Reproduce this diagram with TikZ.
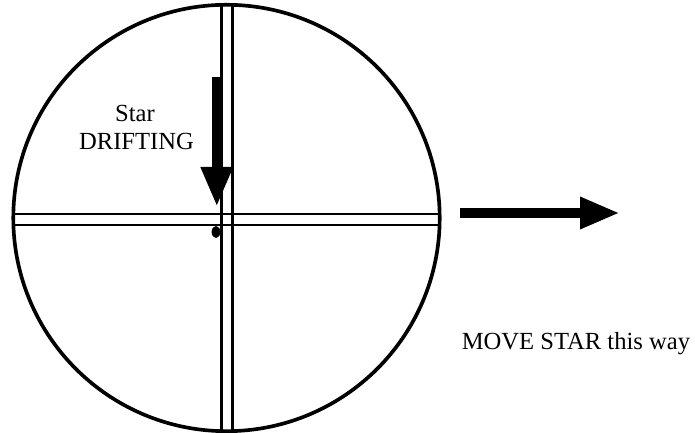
\documentclass[tikz,border=0pt]{standalone}
\usepackage{fontspec}
\setmainfont{Liberation Serif}
\usepackage{tikz}
\usetikzlibrary{arrows.meta,positioning}

\begin{document}
\begin{tikzpicture}[
      ring/.style={line width=2.6pt, black},
      hair/.style={line width=1.5pt, black},
      bigarrow/.style={line width=0.25cm, -{Triangle[length=1cm, width=0.74cm]}},
      lbl/.style={font=\fontsize{17.5}{20}\selectfont, inner sep=0pt, anchor=base}
    ]

    \useasboundingbox (0,0) rectangle (17.375,10.825);

    % -------- eyepiece field --------
    \coordinate (c) at (5.6625,5.375);

    \begin{scope}
      \clip (c) circle (5.33);
      % double crosshair lines
      \draw[hair] (5.5375,0) -- (5.5375,11);
      \draw[hair] (5.8125,0) -- (5.8125,11);
      \draw[hair] (0,5.475) -- (11.5,5.475);
      \draw[hair] (0,5.2) -- (11.5,5.2);
    \end{scope}

    \draw[ring] (c) circle (5.33);

    % star
    \fill (5.4,5.025) ellipse (0.11 and 0.15);

    % -------- drift arrow --------
    \coordinate (driftTop) at (5.42,8.9);
    \coordinate (driftTip) at (5.42,5.65);
    \draw[bigarrow] (driftTop) -- (driftTip);

    \node[lbl] (star) at (3.375,7.775) {Star};
    \node[lbl] (drift) at (3.4125,7.075) {DRIFTING};

    % -------- move arrow --------
    \coordinate (moveStart) at (11.5,5.5);
    \coordinate (moveTip) at (15.5,5.5);
    \draw[bigarrow] (moveStart) -- (moveTip);

    \node[lbl] (move) at (14.4,2.075) {MOVE STAR this way};

\end{tikzpicture}
\end{document}
